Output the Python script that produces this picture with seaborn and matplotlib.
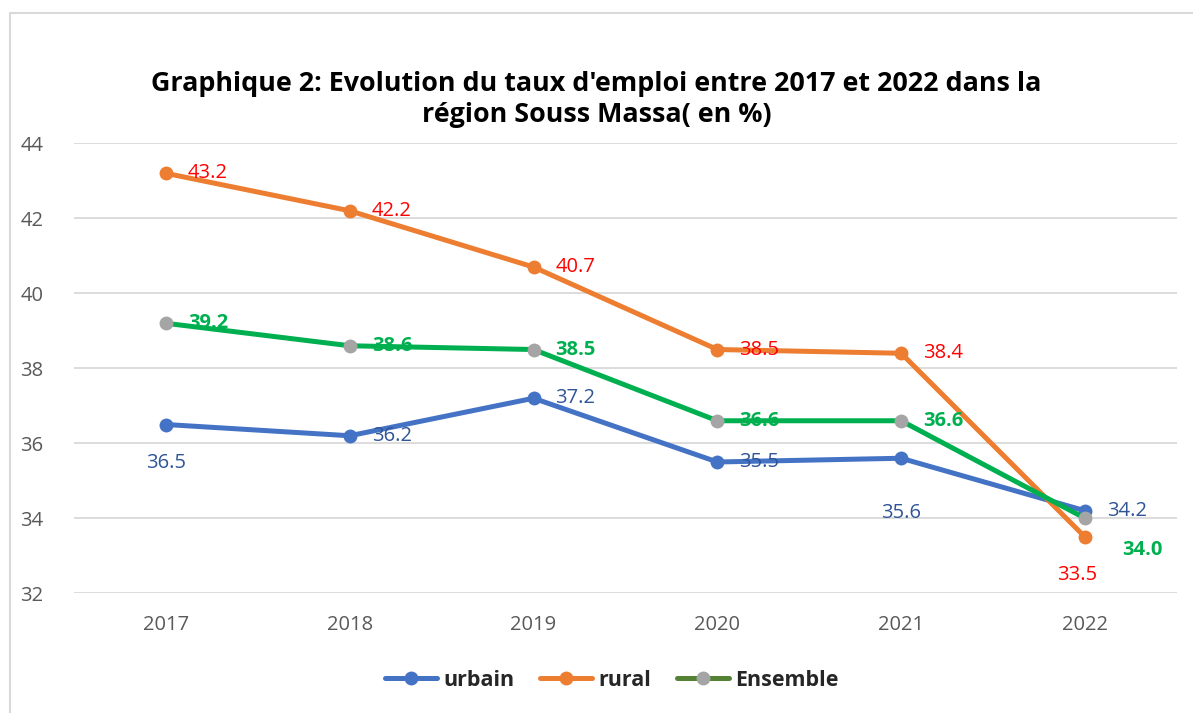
import pandas as pd
import matplotlib
matplotlib.use("Agg")
import matplotlib.pyplot as plt
import seaborn as sns
from matplotlib.lines import Line2D
from matplotlib.patches import Rectangle

# Data
years = ["2017", "2018", "2019", "2020", "2021", "2022"]
urbain = [36.5, 36.2, 37.2, 35.5, 35.6, 34.2]
rural = [43.2, 42.2, 40.7, 38.5, 38.4, 33.5]
ensemble = [39.2, 38.6, 38.5, 36.6, 36.6, 34.0]
yticks = [32, 34, 36, 38, 40, 42, 44]

title = "Graphique 2: Evolution du taux d'emploi entre 2017 et 2022 dans la\nrégion Souss Massa( en %)"

# label placement per point: 'r' = right of marker, 'b' = below, 'rb' = right-below
urbain_pos = ["b", "r", "r", "r", "b2", "r"]
rural_pos = ["r", "r", "r", "r", "r", "b"]
ensemble_pos = ["r", "r", "r", "r", "r", "rb"]

df = pd.DataFrame({
    "year": years * 3,
    "x": list(range(len(years))) * 3,
    "value": urbain + rural + ensemble,
    "serie": ["urbain"] * 6 + ["rural"] * 6 + ["Ensemble"] * 6,
})

sns.set_style("white")
plt.rcParams["font.family"] = ["Open Sans", "DejaVu Sans"]

fig = plt.figure(figsize=(11.93, 7.13), dpi=100)
ax = fig.add_axes([0.062, 0.168, 0.9245, 0.631])

line_styles = {
    "urbain": dict(color="#4472C4", markerfacecolor="#4472C4"),
    "rural": dict(color="#ED7D31", markerfacecolor="#ED7D31"),
    "Ensemble": dict(color="#00B050", markerfacecolor="#A5A5A5"),
}

for name in ["urbain", "rural", "Ensemble"]:
    sub = df[df["serie"] == name]
    sns.lineplot(data=sub, x="x", y="value", ax=ax, marker="o",
                 markersize=10, markeredgewidth=0, linewidth=3.6,
                 legend=False, zorder=3, **line_styles[name])

# data labels
offsets = {"r": (22, 0, "left", "center"),
           "b": (0, -38, "center", "center"),
           "b2": (0, -55, "center", "center"),
           "rb": (57, -32, "center", "center"),
           }
rural_b = (-8, -38, "center", "center")

def add_labels(values, positions, color, weight, special=None):
    for i, (v, p) in enumerate(zip(values, positions)):
        dx, dy, ha, va = offsets[p]
        if special and i in special:
            dx, dy, ha, va = special[i]
        ax.annotate(f"{v:.1f}", (i, v), xytext=(dx, dy), textcoords="offset pixels",
                    ha=ha, va=va, color=color, fontsize=14.5, fontweight=weight, zorder=5)

add_labels(urbain, urbain_pos, "#2F5597", "normal")
add_labels(rural, rural_pos, "#FF0000", "normal", special={5: rural_b})
add_labels(ensemble, ensemble_pos, "#00B050", "bold")

ax.set_xlim(-0.5, 5.5)
ax.set_ylim(32, 44)
ax.set_yticks(yticks)
ax.set_xticks(range(len(years)))
ax.set_xticklabels(years)
ax.tick_params(axis="both", length=0, labelsize=14.5, labelcolor="#595959")
ax.tick_params(axis="x", pad=16)
ax.tick_params(axis="y", pad=22)
ax.set_xlabel("")
ax.set_ylabel("")
ax.grid(axis="y", color="#D9D9D9", linewidth=1.3)
ax.set_axisbelow(True)
sns.despine(ax=ax, left=True, bottom=True)

fig.text(0.5, 0.861, title, ha="center", va="center", fontsize=19.4,
         fontweight="bold", color="black", linespacing=1.25)

handles = [
    Line2D([], [], color="#4472C4", marker="o", markersize=10, linewidth=3.6,
           markeredgewidth=0, solid_capstyle="round"),
    Line2D([], [], color="#ED7D31", marker="o", markersize=10, linewidth=3.6,
           markeredgewidth=0, solid_capstyle="round"),
    Line2D([], [], color="#548235", marker="o", markerfacecolor="#A5A5A5",
           markersize=10, linewidth=3.6, markeredgewidth=0, solid_capstyle="round"),
]
leg = fig.legend(handles, ["urbain", "rural", "Ensemble"], loc="center",
                 bbox_to_anchor=(0.513, 0.046), ncol=3, frameon=False,
                 handlelength=2.4, handletextpad=0.3, columnspacing=1.2,
                 prop={"weight": "bold", "size": 15.5})

# outer chart frame
fig.patches.append(Rectangle((10 / 1193, -0.1), 1.2, 1.1 - 13 / 713, transform=fig.transFigure,
                             fill=False, edgecolor="#D9D9D9", linewidth=1.5))

fig.savefig("out.png", dpi=100)
